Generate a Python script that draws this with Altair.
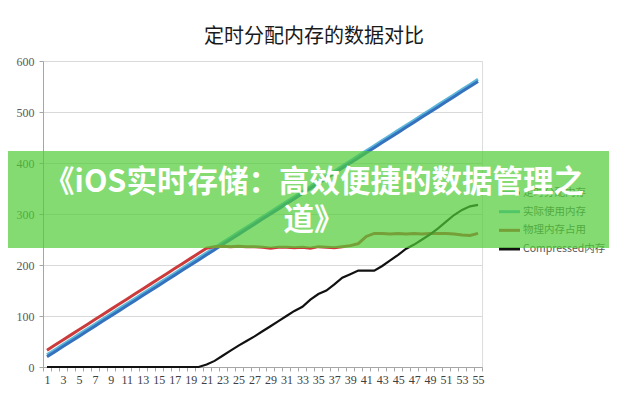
import altair as alt
import pandas as pd

# ---- data ----
idx = list(range(1, 56))
series_names = ["定时分配内存", "实际使用内存", "物理内存占用", "Compressed内存"]
series_colors = ["#3572bd", "#5cb6da", "#cc3b3b", "#111111"]

alloc = [20, 30, 40, 50, 60, 70, 80, 90, 100, 110, 120, 130, 140, 150, 160, 170, 180, 190, 200, 210,
         220, 230, 240, 250, 260, 270, 280, 290, 300, 310, 320, 330, 340, 350, 360, 370, 380, 390, 400, 410,
         420, 430, 440, 450, 460, 470, 480, 490, 500, 510, 520, 530, 540, 550, 560]
actual = [24, 34, 44, 54, 64, 74, 84, 94, 104, 114, 124, 134, 144, 154, 164, 174, 184, 194, 204, 214,
          224, 234, 244, 254, 264, 274, 284, 294, 304, 314, 324, 334, 344, 354, 364, 374, 384, 394, 404, 414,
          424, 434, 444, 454, 464, 474, 484, 494, 504, 514, 524, 534, 544, 554, 564]
physical = [33, 43, 53, 63, 73, 83, 93, 103, 113, 123, 133, 143, 153, 163, 173, 183, 193, 203, 213, 223,
            233, 236, 237, 236, 237, 236, 236, 235, 233, 235, 235, 234, 235, 233, 236, 235, 234, 236, 238, 242,
            256, 262, 262, 261, 262, 261, 262, 261, 262, 262, 262, 261, 259, 258, 262]
compressed = [0, 0, 0, 0, 0, 0, 0, 0, 0, 0, 0, 0, 0, 0, 0, 0, 0, 0, 0, 0,
              5, 12, 22, 32, 42, 51, 60, 70, 80, 90, 100, 110, 118, 132, 143, 150, 162, 175, 182, 189,
              189, 189, 198, 209, 220, 232, 240, 250, 260, 272, 285, 298, 308, 315, 318]

y_ticks = [0, 100, 200, 300, 400, 500, 600]
x_ticks = [i / 2 for i in range(1, 112)]  # category centres and boundaries

chart_title = "定时分配内存的数据对比"
banner_text = "《iOS实时存储：高效便捷的数据管理之\n道》"

# ---- table ----
rows = []
for name, vals in zip(series_names, [alloc, actual, physical, compressed]):
    for i, v in zip(idx, vals):
        rows.append({"idx": i, "value": v, "series": name})
df = pd.DataFrame(rows)

color_scale = alt.Scale(domain=series_names, range=series_colors)

base = alt.Chart(df).encode(
    x=alt.X(
        "idx:Q",
        title=None,
        scale=alt.Scale(domain=[0.5, 55.5], nice=False, zero=False),
        axis=alt.Axis(
            values=x_ticks,
            grid=False,
            labelExpr="datum.value % 2 == 1 ? format(datum.value, 'd') : ''",
            labelOverlap=False,
            labelFlush=False,
            tickOpacity={"condition": {"test": "datum.value % 1 != 0", "value": 1}, "value": 0},
            tickSize=4,
            tickColor="#a6a6a6",
            domainColor="#a6a6a6",
            labelFont="Liberation Serif",
            labelFontSize=12,
            labelColor="#404040",
            labelPadding=3,
        ),
    ),
    y=alt.Y(
        "value:Q",
        title=None,
        scale=alt.Scale(domain=[0, 600], nice=False),
        axis=alt.Axis(
            values=y_ticks,
            grid=True,
            gridColor="#d9d9d9",
            tickSize=4,
            tickColor="#a6a6a6",
            domainColor="#a6a6a6",
            labelFont="Liberation Serif",
            labelFontSize=12,
            labelColor="#595959",
            labelPadding=5,
        ),
    ),
    color=alt.Color("series:N", scale=color_scale, legend=None),
)

draw_order = [("实际使用内存", 3), ("定时分配内存", 3), ("物理内存占用", 3), ("Compressed内存", 2.2)]
line_layers = [
    base.transform_filter(alt.datum.series == name).mark_line(strokeWidth=w)
    for name, w in draw_order
]
main = alt.layer(*line_layers)

# ---- legend drawn as marks (so that the banner can cover it, as in the reference) ----
legend_df = pd.DataFrame({"series": series_names})
leg_y = alt.Y(
    "series:N",
    sort=series_names,
    scale=alt.Scale(type="point", domain=series_names, range=[132, 188], padding=0, paddingOuter=0),
    axis=None,
)
leg_rule = alt.Chart(legend_df).mark_rule(strokeWidth=3).encode(
    x=alt.value(456), x2=alt.value(477), y=leg_y,
    color=alt.Color("series:N", scale=color_scale, legend=None),
)
leg_text = alt.Chart(legend_df).mark_text(
    align="left", baseline="middle", font="Noto Sans CJK SC", fontSize=10.5, color="#595959"
).encode(x=alt.value(480), y=leg_y, text="series:N")
legend = alt.layer(leg_rule, leg_text)

# ---- banner overlay ----
banner_df = pd.DataFrame({"t": [banner_text]})
banner = alt.Chart(banner_df).mark_rect(color="#4fcc36", opacity=0.7).encode(
    x=alt.value(-43), x2=alt.value(574), y=alt.value(90), y2=alt.value(187)
)
banner_txt = alt.Chart(banner_df).mark_text(
    lineBreak="\n",
    font="Noto Sans CJK SC",
    fontSize=30.5,
    fontWeight="bold",
    color="white",
    align="center",
    baseline="middle",
    lineHeight=38,
).encode(x=alt.value(271), y=alt.value(122), text="t:N")

chart = alt.layer(main, legend, banner, banner_txt).resolve_scale(y="independent").properties(
    width=439,
    height=306,
    autosize="none",
    padding={"left": 35, "top": 53, "right": 127, "bottom": 25},
    title=alt.TitleParams(
        chart_title,
        font="Noto Sans CJK SC",
        fontSize=20,
        fontWeight="normal",
        color="#1a1a1a",
        anchor="middle",
        dx=51.5,
        offset=8,
    ),
).configure_view(stroke=None).configure(background="white")

chart.save("out.html", embed_options={"renderer": "svg", "actions": False})
